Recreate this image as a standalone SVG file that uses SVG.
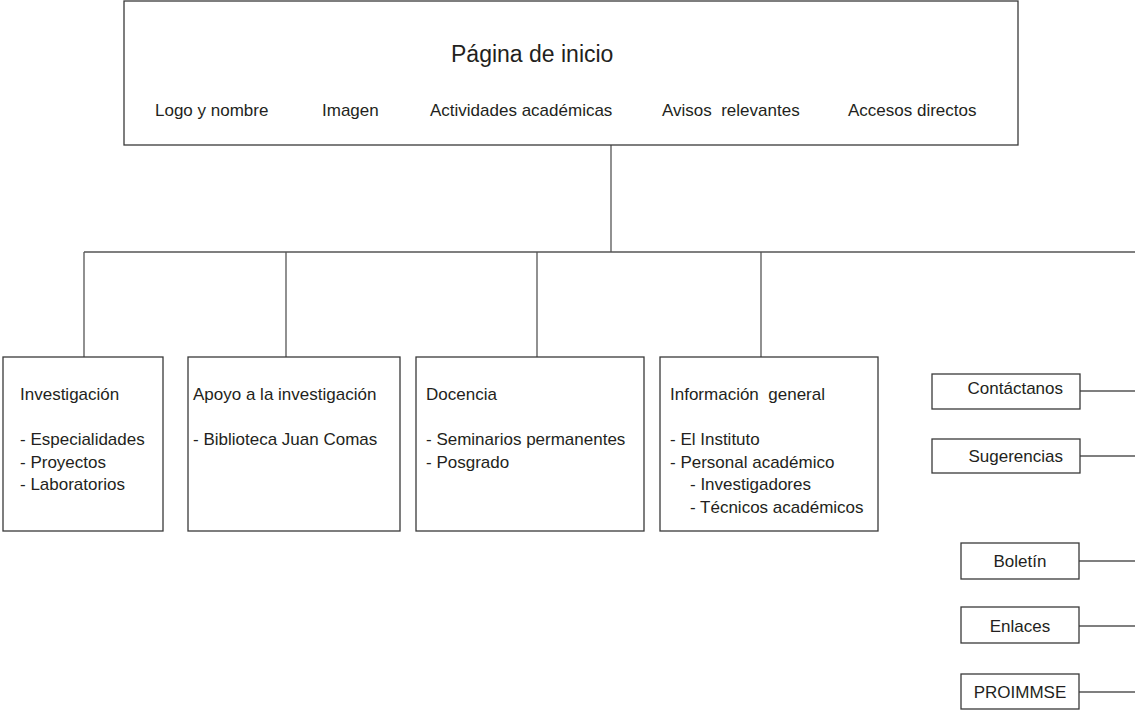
<svg xmlns="http://www.w3.org/2000/svg" width="1135" height="710" viewBox="0 0 1135 710">
<style>
text{font-family:"Liberation Sans",Arial,sans-serif;fill:#231f20;font-size:17px}
.title{font-size:23px}
.box{fill:#fff;stroke:#3a3a3a;stroke-width:1.3}
.c{text-anchor:middle}
.e{text-anchor:end}
#connectors line{stroke:#555;stroke-width:1.3}
</style>
<rect width="1135" height="710" fill="#fff"/>
<g id="connectors">
<line x1="611" y1="145" x2="611" y2="252"/>
<line x1="84" y1="252" x2="1135" y2="252"/>
<line x1="84" y1="252" x2="84" y2="357"/>
<line x1="286" y1="252" x2="286" y2="357"/>
<line x1="537" y1="252" x2="537" y2="357"/>
<line x1="761" y1="252" x2="761" y2="357"/>
<line x1="1080" y1="391" x2="1135" y2="391"/>
<line x1="1080" y1="456" x2="1135" y2="456"/>
<line x1="1079" y1="561" x2="1135" y2="561"/>
<line x1="1079" y1="626" x2="1135" y2="626"/>
<line x1="1079" y1="692" x2="1135" y2="692"/>
</g>
<g id="home">
<rect class="box" x="124" y="1" width="894" height="144"/>
<text class="title" x="451" y="62">Página de inicio</text>
<text x="155" y="116">Logo y nombre</text>
<text x="322" y="116">Imagen</text>
<text x="430" y="116">Actividades académicas</text>
<text x="662" y="116" xml:space="preserve">Avisos  relevantes</text>
<text x="848" y="116">Accesos directos</text>
</g>
<g id="investigacion">
<rect class="box" x="3" y="357" width="160" height="174"/>
<text x="20" y="400">Investigación</text>
<text x="20" y="445">- Especialidades</text>
<text x="20" y="467.5">- Proyectos</text>
<text x="20" y="490">- Laboratorios</text>
</g>
<g id="apoyo">
<rect class="box" x="188" y="357" width="212" height="174"/>
<text x="193" y="400">Apoyo a la investigación</text>
<text x="193" y="445">- Biblioteca Juan Comas</text>
</g>
<g id="docencia">
<rect class="box" x="416" y="357" width="228" height="174"/>
<text x="426" y="400">Docencia</text>
<text x="426" y="445">- Seminarios permanentes</text>
<text x="426" y="467.5">- Posgrado</text>
</g>
<g id="informacion">
<rect class="box" x="660" y="357" width="218" height="174"/>
<text x="670" y="400" xml:space="preserve">Información  general</text>
<text x="670" y="445">- El Instituto</text>
<text x="670" y="467.5">- Personal académico</text>
<text x="690" y="490">- Investigadores</text>
<text x="690" y="512.5">- Técnicos académicos</text>
</g>
<g id="contactanos">
<rect class="box" x="932" y="374" width="148" height="35"/>
<text class="e" x="1063" y="394">Contáctanos</text>
</g>
<g id="sugerencias">
<rect class="box" x="932" y="439" width="148" height="34"/>
<text class="e" x="1063" y="461.5">Sugerencias</text>
</g>
<g id="boletin">
<rect class="box" x="961" y="543" width="118" height="36"/>
<text class="c" x="1020" y="566.5">Boletín</text>
</g>
<g id="enlaces">
<rect class="box" x="961" y="607" width="118" height="36"/>
<text class="c" x="1020" y="631.5">Enlaces</text>
</g>
<g id="proimmse">
<rect class="box" x="961" y="674" width="118" height="35"/>
<text class="c" x="1020" y="698">PROIMMSE</text>
</g>
</svg>
